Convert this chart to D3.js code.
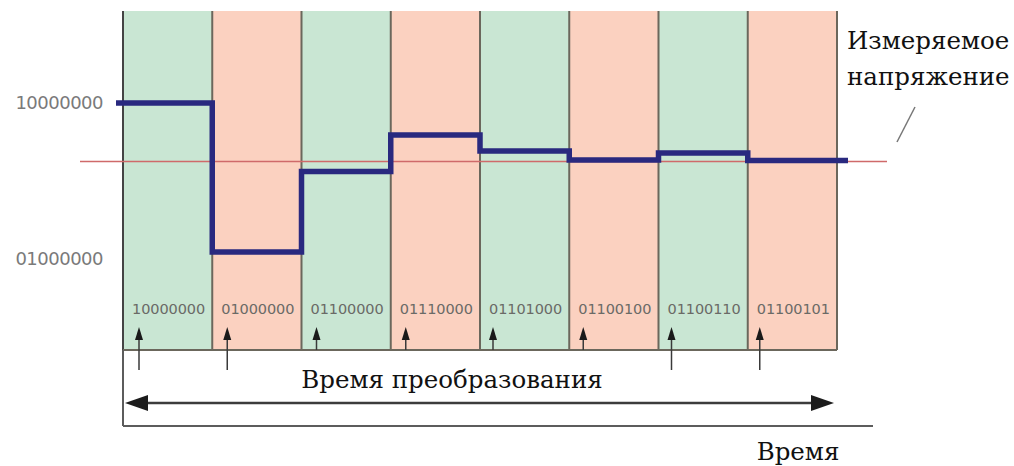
<!DOCTYPE html>
<html>
<head>
<meta charset="utf-8">
<script src="https://cdn.jsdelivr.net/npm/d3@7"></script>
<style>
  body { margin: 0; background: #fff; }
  svg { display: block; }
  .serif { font-family: "DejaVu Serif", "Liberation Serif", serif; font-size: 24.5px; fill: #111; }
</style>
</head>
<body>
<div id="chart"></div>
<script>
// SAR conversion steps: code tried at each step and DAC level drawn
const codes = ["10000000", "01000000", "01100000", "01110000", "01101000", "01100100", "01100110", "01100101"];
const levels = [128, 64, 98.6, 114.3, 107.4, 103.5, 106.5, 103.3];
const measured = 102.9;
const yTicks = [128, 64];
const yTickLabels = ["10000000", "01000000"];
const colFill = ["#c9e6d3", "#fbd1c0"];

let width = 1014,
    height = 466;

const svg = d3.select("#chart")
  .append("svg")
  .attr("width", width)
  .attr("height", height);

const x = d3.scaleBand()
  .domain(d3.range(codes.length))
  .range([123, 837])
  .padding(0);

const y = d3.scaleLinear()
  .domain([64, 128])
  .range([252, 103]);

const colTop = 11, colBottom = 350;

// columns
svg.selectAll(".col")
  .data(codes)
  .enter().append("rect")
  .attr("class", "col")
  .attr("x", (d, i) => x(i))
  .attr("y", colTop)
  .attr("width", x.bandwidth())
  .attr("height", colBottom - colTop)
  .attr("fill", (d, i) => colFill[i % 2]);

// column separators
svg.selectAll(".sep")
  .data(d3.range(codes.length + 1))
  .enter().append("line")
  .attr("x1", i => i < codes.length ? x(i) : x.range()[1])
  .attr("x2", i => i < codes.length ? x(i) : x.range()[1])
  .attr("y1", colTop)
  .attr("y2", colBottom)
  .attr("stroke", (i) => i == 0 ? "#444" : "#6b675c")
  .attr("stroke-width", 2);

svg.append("line")
  .attr("x1", 123).attr("x2", 837)
  .attr("y1", colBottom).attr("y2", colBottom)
  .attr("stroke", "#6b675c").attr("stroke-width", 2);

// code labels inside columns
svg.selectAll(".code")
  .data(codes)
  .enter().append("text")
  .attr("x", (d, i) => x(i) + x.bandwidth() / 2 + 1)
  .attr("y", 314)
  .attr("text-anchor", "middle")
  .style("font-family", "DejaVu Sans")
  .style("font-size", "14.5px")
  .style("letter-spacing", "-0.1px")
  .attr("fill", "#6a6a66")
  .text(d => d);

// y labels
svg.selectAll(".ylab")
  .data(yTicks)
  .enter().append("text")
  .attr("x", 103)
  .attr("y", (d, i) => y(d) + (i == 0 ? 6 : 13))
  .attr("text-anchor", "end")
  .style("font-family", "DejaVu Sans")
  .style("font-size", "18px")
  .style("letter-spacing", "-0.5px")
  .attr("fill", "#7a7a7a")
  .text((d, i) => yTickLabels[i]);

// measured voltage line
svg.append("line")
  .attr("x1", 80).attr("x2", 887)
  .attr("y1", y(measured)).attr("y2", y(measured))
  .attr("stroke", "#cf6a6a")
  .attr("stroke-width", 1.6);

// DAC step line
let pts = [[116, levels[0]]];
levels.forEach(function (v, i) { pts.push([x(i), v]); });
pts.push([848, levels[levels.length - 1]]);

const line = d3.line()
  .x(d => d[0])
  .y(d => y(d[1]))
  .curve(d3.curveStepAfter);

svg.append("path")
  .attr("d", line(pts))
  .attr("fill", "none")
  .attr("stroke", "#29297f")
  .attr("stroke-width", 5.5)
  .attr("stroke-linejoin", "miter");

// sample arrows
const offs = [16, 15, 15, 15, 13, 14, 13, 12];
codes.forEach(function (d, i) {
  let ax = x(i) + offs[i];
  let long = (i < 2 || i > 5);
  svg.append("line")
    .attr("x1", ax).attr("x2", ax)
    .attr("y1", 332).attr("y2", long ? 370 : colBottom)
    .attr("stroke", "#3a3a3a").attr("stroke-width", 1.5);
  svg.append("path")
    .attr("d", d3.line()([[ax - 4, 340], [ax, 327], [ax + 4, 340]]) + "Z")
    .attr("fill", "#1a1a1a");
});

// conversion time bracket
svg.append("line")
  .attr("x1", 123).attr("x2", 123)
  .attr("y1", colBottom).attr("y2", 426)
  .attr("stroke", "#5c5c5c").attr("stroke-width", 2);
svg.append("line")
  .attr("x1", 123).attr("x2", 873)
  .attr("y1", 426).attr("y2", 426)
  .attr("stroke", "#5c5c5c").attr("stroke-width", 2);

svg.append("line")
  .attr("x1", 140).attr("x2", 818)
  .attr("y1", 403).attr("y2", 403)
  .attr("stroke", "#3c3c3c").attr("stroke-width", 2.5);
svg.append("path")
  .attr("d", d3.line()([[125, 403], [148, 395], [148, 411]]) + "Z")
  .attr("fill", "#1c1c1c");
svg.append("path")
  .attr("d", d3.line()([[834, 403], [811, 395], [811, 411]]) + "Z")
  .attr("fill", "#1c1c1c");

svg.append("text")
  .attr("class", "serif")
  .attr("x", 452).attr("y", 388)
  .attr("text-anchor", "middle")
  .text("Время преобразования");

svg.append("text")
  .attr("class", "serif")
  .attr("x", 798).attr("y", 460)
  .attr("text-anchor", "middle")
  .text("Время");

// measured voltage label
svg.append("text")
  .attr("class", "serif")
  .attr("x", 847).attr("y", 49)
  .text("Измеряемое");
svg.append("text")
  .attr("class", "serif")
  .attr("x", 847).attr("y", 85)
  .text("напряжение");

svg.append("line")
  .attr("x1", 915).attr("y1", 107)
  .attr("x2", 897).attr("y2", 142)
  .attr("stroke", "#777").attr("stroke-width", 1.5);
</script>
</body>
</html>
